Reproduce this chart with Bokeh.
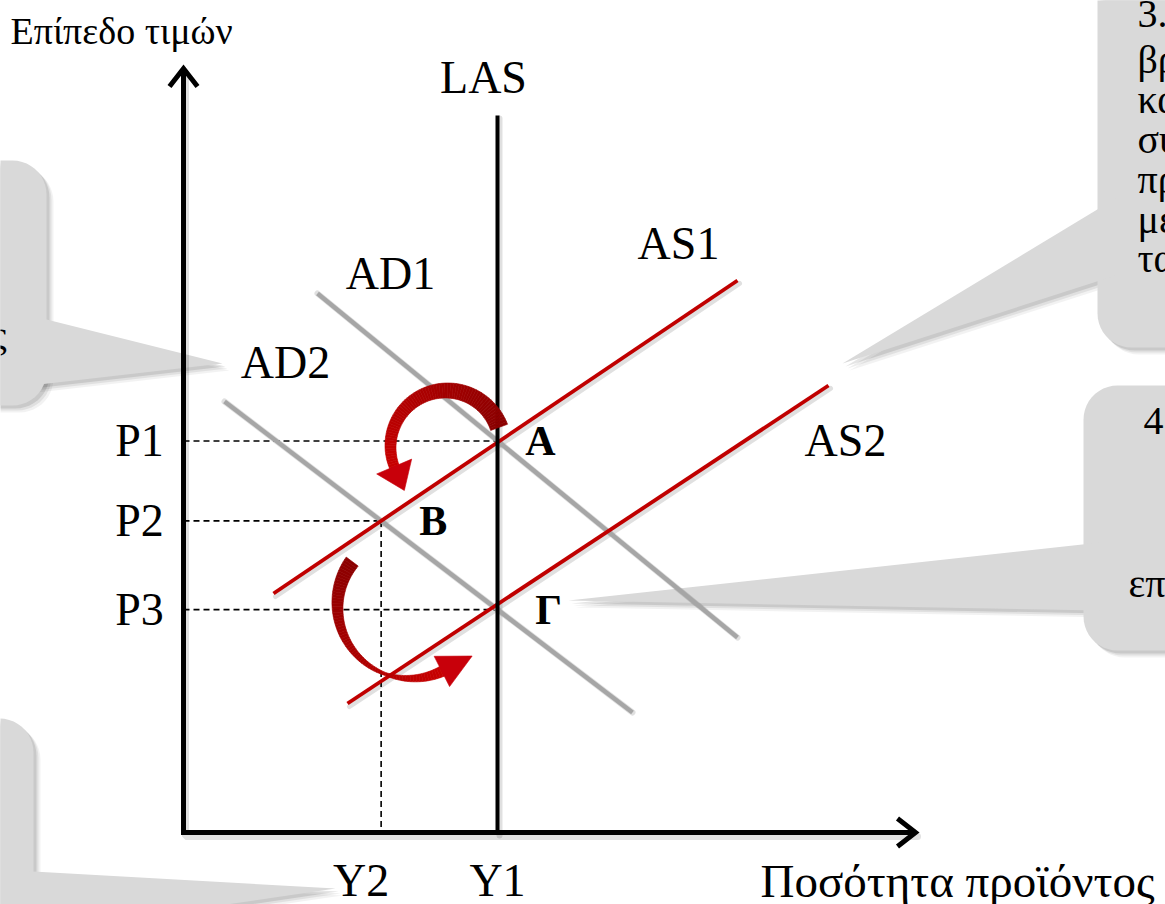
import numpy as np
from bokeh.plotting import figure
from bokeh.models import Range1d
from bokeh.core.properties import value
from bokeh.embed import file_html
from bokeh.resources import INLINE

W, H = 1165, 904
SERIF = "Liberation Serif"

# ---- diagram geometry (canvas units, y grows downward) ----
origin_x, origin_y = 183, 832
y_axis_top = 68
x_axis_end = 915

las_x = 497
las_top = 115

ad_names = ["AD1", "AD2"]
ad_x0 = [317, 224]
ad_y0 = [293, 401]
ad_x1 = [737, 632]
ad_y1 = [637, 712]

as_names = ["AS1", "AS2"]
as_x0 = [273, 347]
as_y0 = [593, 703]
as_x1 = [737, 828]
as_y1 = [280, 385]

price_labels = ["P1", "P2", "P3"]
output_labels = ["Y2", "Y1"]
point_labels = ["A", "B", "Γ"]

curve_label_x = [390, 285, 678, 845, 483]
curve_label_y = [273, 362, 243, 440, 77]
curve_label_text = ["AD1", "AD2", "AS1", "AS2", "LAS"]

axis_titles = ["Επίπεδο τιμών", "Ποσότητα προϊόντος"]

# curved arrows: centre, radius, angle breakpoints and band widths there
arrow_cx = [446, 410]
arrow_cy = [446, 605]
arrow_r = [56, 73]
arrow_angles = [[20, 90, 180, 203], [143, 180, 250, 297]]
arrow_widths = [[18, 15, 11, 10], [15, 11, 3, 11]]
arrow_head_len = [26, 34]
arrow_head_w = [38, 34]

# callout bubbles: box (x0, y0, x1, y1) and pointer triangle
bubble_boxes = [(-60, 160, 46, 405), (1097, -60, 1260, 347),
                (1083, 385, 1260, 650), (-60, 718, 33, 960)]
bubble_ptr_x = [[30, 222, 30], [1115, 842, 1115], [1100, 568, 1100], [15, 335, 15]]
bubble_ptr_y = [[315, 363, 385], [198, 363, 275], [542, 600, 610], [870, 888, 935]]

bubble_text = ["τιμές", "3. Η", "βραχυχρόνια", "καμπύλη", "συνολικής",
               "προσφοράς", "μετατοπίζεται", "τα δεξιά", "4. Η", "επιστροφή"]
bubble_text_x = [6, 1137, 1137, 1137, 1137, 1137, 1137, 1137, 1143, 1128]
bubble_text_y = [335, 13, 59, 99, 139, 179, 219, 258, 420, 583]


def line_y(x0, y0, x1, y1, x):
    return y0 + (y1 - y0) * (x - x0) / (x1 - x0)


def intersect(a, b):
    (ax0, ay0, ax1, ay1), (bx0, by0, bx1, by1) = a, b
    ma = (ay1 - ay0) / (ax1 - ax0)
    mb = (by1 - by0) / (bx1 - bx0)
    x = (by0 - ay0 + ma * ax0 - mb * bx0) / (ma - mb)
    return x, ay0 + ma * (x - ax0)


AD = [(ad_x0[i], ad_y0[i], ad_x1[i], ad_y1[i]) for i in range(2)]
AS = [(as_x0[i], as_y0[i], as_x1[i], as_y1[i]) for i in range(2)]

# equilibria: A on LAS with AD1/AS1, B = AD2 x AS1, Γ on LAS with AD2/AS2
pA = (las_x, line_y(*AD[0], las_x))
pB = intersect(AD[1], AS[0])
pG = (las_x, line_y(*AD[1], las_x))
points = [pA, pB, pG]


def rounded_box(x0, y0, x1, y1, r, n=12):
    xs, ys = [], []
    corners = [(x1 - r, y0 + r, -90, 0), (x1 - r, y1 - r, 0, 90),
               (x0 + r, y1 - r, 90, 180), (x0 + r, y0 + r, 180, 270)]
    for cx, cy, a0, a1 in corners:
        t = np.radians(np.linspace(a0, a1, n))
        xs += list(cx + r * np.cos(t))
        ys += list(cy + r * np.sin(t))
    return xs, ys


def mix(c0, c1, t):
    c = [int(round(c0[k] + (c1[k] - c0[k]) * t)) for k in range(3)]
    return "#%02x%02x%02x" % tuple(c)


p = figure(width=W, height=H, x_range=Range1d(0, W), y_range=Range1d(H, 0),
           min_border=0, toolbar_location=None, output_backend="svg",
           x_axis_location=None, y_axis_location=None)
p.xgrid.visible = False
p.ygrid.visible = False
p.outline_line_color = None
p.background_fill_color = "white"
p.border_fill_color = "white"

# ---- callout bubbles with soft shadows ----
for (x0, y0, x1, y1), px, py in zip(bubble_boxes, bubble_ptr_x, bubble_ptr_y):
    bx, by = rounded_box(x0, y0, x1, y1, 34)
    for off, a in [(7, 0.05), (5, 0.07), (3, 0.10)]:
        p.patch([v + off for v in bx], [v + off for v in by], color="black", alpha=a, line_width=0)
        p.patch([v + off for v in px], [v + off for v in py], color="black", alpha=a, line_width=0)
    p.patch(bx, by, fill_color="#d9d9d9", line_color=None)
    p.patch(px, py, fill_color="#d9d9d9", line_color=None)

p.text(x=bubble_text_x[:1], y=bubble_text_y[:1], text=bubble_text[:1],
       text_font=value(SERIF), text_font_size="40px", text_align="right",
       text_baseline="middle", text_color="black")
p.text(x=bubble_text_x[1:], y=bubble_text_y[1:], text=bubble_text[1:],
       text_font=value(SERIF), text_font_size="40px", text_align="left",
       text_baseline="middle", text_color="black")

# ---- shadows of the main strokes ----
sh = dict(color="black", alpha=0.12, line_cap="round")
p.segment(x0=ad_x0, y0=ad_y0, x1=ad_x1, y1=ad_y1, line_width=6, **sh)
p.segment(x0=[v + 2 for v in as_x0], y0=[v + 3 for v in as_y0],
          x1=[v + 2 for v in as_x1], y1=[v + 3 for v in as_y1], line_width=5, **sh)
p.segment(x0=[las_x + 2], y0=[las_top + 3], x1=[las_x + 2], y1=[origin_y + 3], line_width=6, **sh)
p.line([origin_x + 2, origin_x + 2, x_axis_end + 2], [y_axis_top + 5, origin_y + 4, origin_y + 4],
       line_width=7, **sh)

# ---- dashed guide lines ----
dash = dict(color="black", line_width=1.6, line_dash="6 4")
p.segment(x0=[origin_x] * 3, y0=[pt[1] for pt in points],
          x1=[pt[0] for pt in points], y1=[pt[1] for pt in points], **dash)
p.segment(x0=[pB[0]], y0=[pB[1]], x1=[pB[0]], y1=[origin_y], **dash)

# ---- demand, supply and long-run supply ----
p.segment(x0=ad_x0, y0=ad_y0, x1=ad_x1, y1=ad_y1, color="#a6a6a6", line_width=4.5)
p.segment(x0=as_x0, y0=as_y0, x1=as_x1, y1=as_y1, color="#c00000", line_width=3.8)
p.segment(x0=[las_x], y0=[las_top], x1=[las_x], y1=[origin_y], color="black", line_width=4)

# ---- axes with open arrowheads ----
p.line([origin_x, origin_x, x_axis_end - 2], [y_axis_top + 2, origin_y, origin_y],
       color="black", line_width=5, line_join="miter")
p.line([origin_x - 14, origin_x, origin_x + 14], [y_axis_top + 18, y_axis_top, y_axis_top + 18],
       color="black", line_width=5, line_join="miter")
p.line([x_axis_end - 18, x_axis_end, x_axis_end - 18], [origin_y - 14, origin_y, origin_y + 14],
       color="black", line_width=5, line_join="miter")

# ---- curved red arrows ----
dark = (0x8b, 0x00, 0x00)
bright = (0xc8, 0x00, 0x00)
for k in range(2):
    cx, cy, r = arrow_cx[k], arrow_cy[k], arrow_r[k]
    angs = arrow_angles[k]
    a = np.linspace(angs[0], angs[-1], 70)
    w = np.interp(a, angs, arrow_widths[k])
    t = np.radians(a)
    ox, oy = np.cos(t), -np.sin(t)
    mx, my = cx + r * ox, cy + r * oy
    xs_list, ys_list, cols = [], [], []
    for i in range(len(a) - 1):
        x_q = [mx[i] + ox[i] * w[i] / 2, mx[i + 1] + ox[i + 1] * w[i + 1] / 2,
               mx[i + 1] - ox[i + 1] * w[i + 1] / 2, mx[i] - ox[i] * w[i] / 2]
        y_q = [my[i] + oy[i] * w[i] / 2, my[i + 1] + oy[i + 1] * w[i + 1] / 2,
               my[i + 1] - oy[i + 1] * w[i + 1] / 2, my[i] - oy[i] * w[i] / 2]
        xs_list.append(x_q)
        ys_list.append(y_q)
        cols.append(mix(dark, bright, i / (len(a) - 2)))
    p.patches(xs_list, ys_list, fill_color=cols, line_color=cols, line_width=0.6)
    te = t[-1]
    dx, dy = -np.sin(te), -np.cos(te)
    ex, ey = mx[-1] - dx * 2, my[-1] - dy * 2
    hw = arrow_head_w[k] / 2
    hx = [ex + ox[-1] * hw, ex + dx * arrow_head_len[k], ex - ox[-1] * hw]
    hy = [ey + oy[-1] * hw, ey + dy * arrow_head_len[k], ey - oy[-1] * hw]
    p.patch(hx, hy, fill_color="#c8000a", line_color="#c8000a", line_width=0.6)

# ---- labels ----
p.text(x=curve_label_x, y=curve_label_y, text=curve_label_text,
       text_font=value(SERIF), text_font_size="46px", text_align="center",
       text_baseline="middle", text_color="black")
p.text(x=[139] * 3, y=[pt[1] for pt in points], text=price_labels,
       text_font=value(SERIF), text_font_size="46px", text_align="center",
       text_baseline="middle", text_color="black")
p.text(x=[pB[0] - 20, las_x], y=[880, 880], text=output_labels,
       text_font=value(SERIF), text_font_size="46px", text_align="center",
       text_baseline="middle", text_color="black")
p.text(x=[pA[0] + 43, pB[0] + 52, pG[0] + 51], y=[pA[1], pB[1], pG[1]], text=point_labels,
       text_font=value(SERIF), text_font_size="42px", text_font_style="bold",
       text_align="center", text_baseline="middle", text_color="black")
p.text(x=[10], y=[30], text=axis_titles[:1], text_font=value(SERIF),
       text_font_size="38px", text_align="left", text_baseline="middle", text_color="black")
p.text(x=[760], y=[880], text=axis_titles[1:], text_font=value(SERIF),
       text_font_size="47px", text_align="left", text_baseline="middle", text_color="black")

open("out.html", "w").write(file_html(p, INLINE))
